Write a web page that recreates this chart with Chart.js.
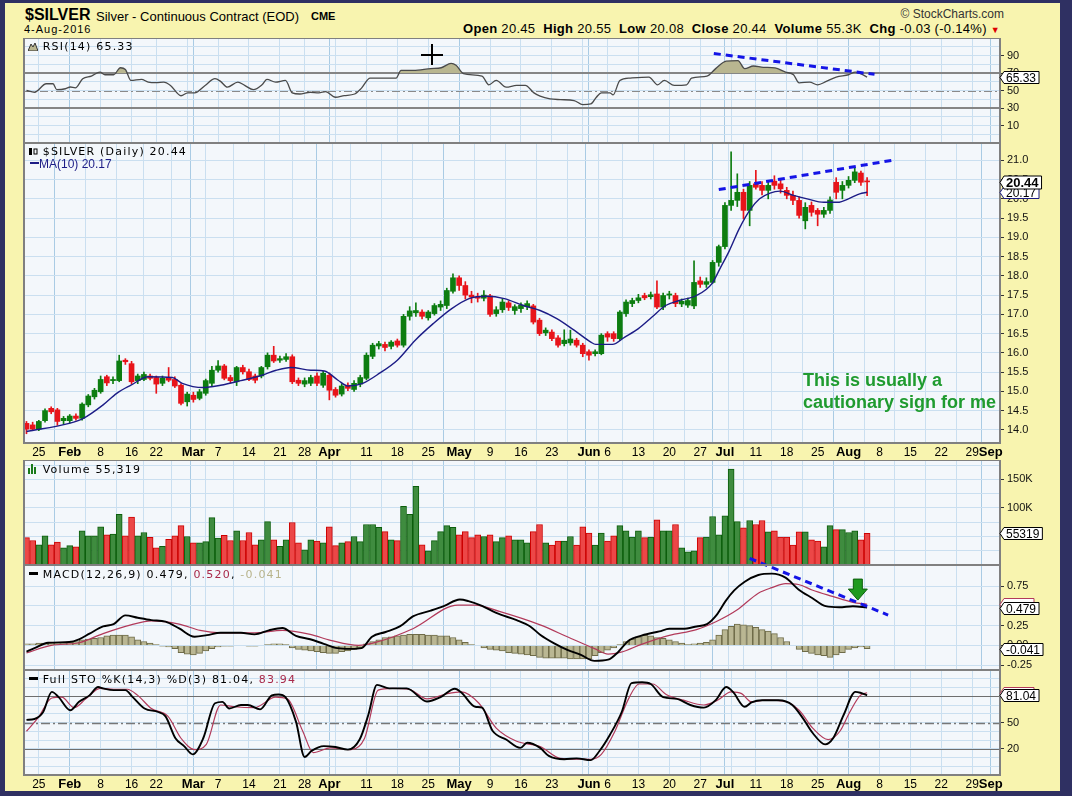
<!DOCTYPE html>
<html><head><meta charset="utf-8">
<script src="https://cdn.jsdelivr.net/npm/chart.js@4.4.1/dist/chart.umd.min.js"></script>
<style>
html,body{margin:0;padding:0}
body{width:1072px;height:796px;background:#2f3062;position:relative;overflow:hidden;font-family:"Liberation Sans",Arial,sans-serif}
#frame{position:absolute;left:5px;top:3px;width:1055px;height:788px;background:#f8f4af}
canvas{position:absolute;left:23px}
.t{position:absolute;white-space:nowrap;line-height:1;color:#000}
.lbl{font-family:"DejaVu Sans",sans-serif;font-size:11px;letter-spacing:1.2px}
</style></head><body>
<div id="frame"></div>
<canvas id="cRsi" width="1035" height="105" style="top:38px"></canvas>
<canvas id="cPrice" width="1035" height="317" style="top:143px"></canvas>
<canvas id="cVol" width="1035" height="105" style="top:460px"></canvas>
<canvas id="cMacd" width="1035" height="125" style="top:545px"></canvas>
<canvas id="cSto" width="1035" height="122" style="top:670px"></canvas>

<div class="t" style="left:25px;top:7px;font-weight:bold;font-size:16px">$SILVER</div>
<div class="t" style="left:96px;top:10px;font-size:13px">Silver - Continuous Contract (EOD)</div>
<div class="t" style="left:311px;top:11px;font-size:11px;font-weight:bold">CME</div>
<div class="t" style="left:24px;top:24px;font-size:11px;letter-spacing:1px">4-Aug-2016</div>
<div class="t" style="right:68px;top:8px;font-size:12px;color:#333">&copy; StockCharts.com</div>
<div class="t" style="right:72px;top:22px;font-size:13px;letter-spacing:0.3px"><b>Open</b> 20.45 &nbsp;<b>High</b> 20.55 &nbsp;<b>Low</b> 20.08 &nbsp;<b>Close</b> 20.44 &nbsp;<b>Volume</b> 55.3K &nbsp;<b>Chg</b> -0.03 (-0.14%) <span style="color:#d00;font-size:9px">&#9660;</span></div>

<div class="t lbl" style="left:28px;top:41px"><svg width="10" height="9" style="vertical-align:-1px"><polygon points="0,9 3,2 5,5 7,1 10,9" fill="#b9b690" stroke="#333" stroke-width="1"/></svg> RSI(14) 65.33</div>
<div class="t lbl" style="left:28px;top:146px"><svg width="10" height="9" style="vertical-align:-1px"><rect x="1" y="1" width="3" height="7" fill="#000"/><rect x="6" y="2" width="3" height="5" fill="none" stroke="#000"/></svg> $SILVER (Daily) 20.44</div>
<div class="t" style="left:30px;top:158px;font-size:12px;color:#1c1c86"><span style="display:inline-block;width:9px;height:2px;background:#1c1c86;vertical-align:4px"></span>MA(10) 20.17</div>
<div class="t lbl" style="left:28px;top:464px"><svg width="10" height="10" style="vertical-align:-1px"><rect x="0" y="4" width="2" height="6" fill="#1b7a1b"/><rect x="3" y="0" width="2" height="10" fill="#1b7a1b"/><rect x="6" y="3" width="2" height="7" fill="#1b7a1b"/></svg> Volume 55,319</div>
<div class="t lbl" style="left:29px;top:569px"><span style="display:inline-block;width:9px;height:3px;background:#000;vertical-align:3px"></span> MACD(12,26,9) 0.479, <span style="color:#a8294a">0.520</span>, <span style="color:#b8b48c">-0.041</span></div>
<div class="t lbl" style="left:29px;top:674px"><span style="display:inline-block;width:9px;height:3px;background:#000;vertical-align:3px"></span> Full STO %K(14,3) %D(3) 81.04, <span style="color:#a8294a">83.94</span></div>

<div class="t" style="left:803px;top:369px;font-size:18px;font-weight:bold;color:#1f9b2f;line-height:22px">This is usually a<br>cautionary sign for me</div>
<div style="position:absolute;left:421px;top:54px;width:22px;height:1.5px;background:#000"></div>
<div style="position:absolute;left:431px;top:44px;width:1.5px;height:21px;background:#000"></div>

<script>
// ---------- categories ----------
const dates = ['2016-01-21','2016-01-22','2016-01-25','2016-01-26','2016-01-27','2016-01-28','2016-01-29',
'2016-02-01','2016-02-02','2016-02-03','2016-02-04','2016-02-05','2016-02-08','2016-02-09','2016-02-10','2016-02-11','2016-02-12','2016-02-16','2016-02-17','2016-02-18','2016-02-19','2016-02-22','2016-02-23','2016-02-24','2016-02-25','2016-02-26','2016-02-29',
'2016-03-01','2016-03-02','2016-03-03','2016-03-04','2016-03-07','2016-03-08','2016-03-09','2016-03-10','2016-03-11','2016-03-14','2016-03-15','2016-03-16','2016-03-17','2016-03-18','2016-03-21','2016-03-22','2016-03-23','2016-03-24','2016-03-28','2016-03-29','2016-03-30','2016-03-31',
'2016-04-01','2016-04-04','2016-04-05','2016-04-06','2016-04-07','2016-04-08','2016-04-11','2016-04-12','2016-04-13','2016-04-14','2016-04-15','2016-04-18','2016-04-19','2016-04-20','2016-04-21','2016-04-22','2016-04-25','2016-04-26','2016-04-27','2016-04-28','2016-04-29',
'2016-05-02','2016-05-03','2016-05-04','2016-05-05','2016-05-06','2016-05-09','2016-05-10','2016-05-11','2016-05-12','2016-05-13','2016-05-16','2016-05-17','2016-05-18','2016-05-19','2016-05-20','2016-05-23','2016-05-24','2016-05-25','2016-05-26','2016-05-27','2016-05-31',
'2016-06-01','2016-06-02','2016-06-03','2016-06-06','2016-06-07','2016-06-08','2016-06-09','2016-06-10','2016-06-13','2016-06-14','2016-06-15','2016-06-16','2016-06-17','2016-06-20','2016-06-21','2016-06-22','2016-06-23','2016-06-24','2016-06-27','2016-06-28','2016-06-29','2016-06-30',
'2016-07-01','2016-07-05','2016-07-06','2016-07-07','2016-07-08','2016-07-11','2016-07-12','2016-07-13','2016-07-14','2016-07-15','2016-07-18','2016-07-19','2016-07-20','2016-07-21','2016-07-22','2016-07-25','2016-07-26','2016-07-27','2016-07-28','2016-07-29',
'2016-08-01','2016-08-02','2016-08-03','2016-08-04'];

// up (g) / down (r) day
const dir = ['r','r','g','g','r','r','g','g','r','g', 'g','g','g','r','g','g','r','r','g','g',
'r','r','g','r','r','r','g','r','g','g', 'g','g','r','r','g','r','r','r','g','g',
'r','g','g','r','r','g','g','r','g','r', 'r','g','r','g','g','g','g','g','r','g',
'r','g','g','g','r','g','g','g','g','g', 'r','r','r','r','g','r','g','g','r','g',
'g','g','r','r','g','r','r','g','g','r', 'r','r','g','g','r','r','g','g','g','g',
'r','g','r','g','g','r','g','g','g','r', 'g','g','g','g','g','g','r','g','r','r',
'g','r','r','r','r','r','g','r','r','g', 'g','r','g','g','g','r','r'];

// ---------- price (OHLC) ----------
const open = [14.17,14.13,14.02,14.24,14.56,14.52,14.24,14.24,14.36,14.30,
14.65,14.86,14.99,15.38,15.28,15.28,15.81,15.72,15.28,15.31,
15.40,15.36,15.21,15.36,15.31,15.16,14.73,14.90,14.82,14.95,
15.21,15.55,15.66,15.36,15.25,15.62,15.51,15.40,15.40,15.64,
15.94,15.81,15.83,15.90,15.29,15.19,15.21,15.40,15.16,15.42,
15.05,14.93,15.16,15.05,15.19,15.34,15.91,16.18,16.22,16.17,
16.31,16.20,16.95,17.04,17.06,16.91,17.02,17.19,17.23,17.60,
17.95,17.75,17.50,17.45,17.42,17.48,17.02,17.12,17.30,17.10,
17.15,17.20,17.22,16.85,16.52,16.54,16.39,16.24,16.26,16.33,
16.20,16.03,15.98,15.98,16.50,16.50,16.37,17.02,17.28,17.36,
17.49,17.46,17.53,17.19,17.50,17.49,17.27,17.24,17.22,17.87,
17.78,17.83,18.35,18.76,19.83,19.96,20.17,19.70,20.39,20.35,
20.22,20.46,20.39,20.22,20.09,19.96,19.43,19.83,19.70,19.60,
19.70,20.43,20.22,20.35,20.48,20.67,20.45];
const high = [14.22,14.20,14.25,14.55,14.60,14.56,14.35,14.40,14.42,14.70,
14.92,15.08,15.40,15.42,15.38,15.94,15.85,15.78,15.45,15.50,
15.45,15.40,15.40,15.62,15.38,15.20,14.98,14.98,15.05,15.32,
15.65,15.80,15.70,15.42,15.65,15.68,15.58,15.45,15.65,16.00,
16.17,15.92,15.98,15.95,15.35,15.35,15.42,15.48,15.52,15.48,
15.10,15.20,15.22,15.28,15.42,16.00,16.25,16.30,16.28,16.32,
16.36,17.00,17.20,17.30,17.12,17.10,17.28,17.35,17.68,18.05,
18.00,17.85,17.60,17.55,17.62,17.52,17.20,17.40,17.35,17.25,
17.30,17.35,17.26,16.90,16.65,16.60,16.45,16.60,16.59,16.38,
16.25,16.08,16.08,16.50,16.55,16.55,17.10,17.38,17.42,17.52,
17.55,17.58,17.87,17.55,17.60,17.55,17.40,17.42,18.39,17.97,
17.95,18.40,18.80,19.90,21.22,20.65,20.25,20.45,20.74,20.45,
20.45,20.60,20.50,20.30,20.20,20.05,19.90,19.92,19.75,19.78,
20.05,20.55,20.45,20.58,20.80,20.72,20.55];
const low = [13.90,13.98,13.98,14.20,14.42,14.12,14.15,14.18,14.25,14.25,
14.60,14.80,14.95,15.15,15.20,15.25,15.70,15.20,15.20,15.28,
15.30,14.95,15.15,15.25,15.10,14.65,14.62,14.72,14.78,14.90,
15.15,15.50,15.30,15.22,15.15,15.45,15.28,15.22,15.35,15.58,
15.75,15.75,15.78,15.20,15.15,15.12,15.15,15.15,15.10,14.78,
14.85,14.88,15.02,15.00,15.12,15.30,15.85,16.10,16.05,16.10,
16.15,16.15,16.85,16.95,16.88,16.85,16.98,17.10,17.15,17.55,
17.62,17.40,17.30,17.32,17.35,16.95,16.95,17.05,17.10,17.00,
17.05,17.12,16.75,16.45,16.45,16.32,16.15,16.18,16.20,16.15,
15.90,15.81,15.92,15.95,16.30,16.30,16.32,16.95,17.20,17.30,
17.38,17.40,17.15,17.12,17.40,17.20,17.20,17.18,17.15,17.70,
17.70,17.80,18.25,18.70,19.70,19.80,19.48,19.30,20.25,20.10,
20.00,20.25,20.15,20.00,19.85,19.50,19.22,19.55,19.30,19.52,
19.62,20.00,20.00,20.28,20.42,20.35,20.08];
const close = [14.02,14.02,14.22,14.50,14.47,14.22,14.30,14.36,14.30,14.67,
14.88,15.03,15.31,15.22,15.31,15.79,15.77,15.25,15.40,15.44,
15.34,15.19,15.34,15.29,15.14,14.69,14.93,14.79,14.99,15.28,
15.55,15.66,15.34,15.28,15.62,15.51,15.31,15.29,15.62,15.94,
15.79,15.85,15.90,15.25,15.21,15.28,15.36,15.21,15.47,15.03,
14.90,15.14,15.08,15.21,15.36,15.94,16.20,16.24,16.14,16.28,
16.20,16.95,17.09,17.10,16.95,17.06,17.23,17.26,17.62,17.95,
17.75,17.50,17.45,17.42,17.50,17.00,17.12,17.32,17.18,17.20,
17.24,17.28,16.80,16.50,16.59,16.37,16.20,16.33,16.36,16.20,
15.98,15.94,16.03,16.46,16.41,16.37,17.06,17.32,17.36,17.43,
17.43,17.51,17.19,17.49,17.53,17.28,17.34,17.36,17.83,17.78,
17.85,18.35,18.76,19.83,19.96,20.17,19.70,20.35,20.30,20.22,
20.35,20.35,20.26,20.09,19.96,19.57,19.78,19.65,19.60,19.70,
19.97,20.17,20.35,20.48,20.70,20.43,20.44];

// MA(10) read at positions (trading-day index)
const maX = [0,6.9,9.2,12.4,14.6,16.9,19.7,23.6,25.2,28.6,31.4,34.7,38.1,40.4,42.8,46,48.2,50.4,52,54.4,57.2,60,62.9,65.8,68.8,71.6,74.5,77.3,80.4,83.1,85.8,88.6,91.3,92.1,94.8,96.8,99,101.2,103.4,105.6,108.4,110.9,112.3,113.7,115.3,117,118.6,120.3,121.9,124.1,126.3,129,131.2,133.4,134.8,136];
const maY = [13.96,14.17,14.3,14.65,14.95,15.16,15.38,15.36,15.21,15.1,15.16,15.28,15.42,15.55,15.62,15.55,15.53,15.29,15.14,15.21,15.48,15.81,16.33,16.76,17.15,17.41,17.47,17.41,17.23,17.1,16.89,16.59,16.28,16.22,16.22,16.41,16.63,16.93,17.23,17.36,17.49,17.8,18.22,18.65,19.22,19.7,20.0,20.15,20.2,20.09,20.0,19.91,19.91,20.03,20.13,20.17];

// ---------- volume (thousands) ----------
const volK = [48,43,35.5,51,35.5,40,30,34,32,60,
51,51,67,53,54,89,51,84,51,57,
48.5,30,32.5,45,51,69,50,39,39,41,
83,47,52,43,60,43,57,35.5,44,76,
44,32.5,44,74.5,39,26.6,44,42,39,67,
34,39,41,50,41,71,71,66,58.6,44,
42.6,103,89,138,35.5,25,42.6,58.6,69,66,
53,58.6,48,53,50,53,41,48,51,44,
44,39,58.6,71,39,35,42,42,50,35,
67,56,35,56,42,51,69,60,49,60,
48,49,79,60,60,71,30,23,25,48,
49,85,53,86,168,76,65,78,71,78,
58,60,49,49,35,58,58,44,42,32,
69,62,62,57,60,44,55.319];

// ---------- RSI(14) ----------
const rsiX = [0,1.3,3.2,4.3,4.9,6.3,7.1,7.9,9.1,10.5,11.9,12.7,14.1,15.2,16,16.9,18.6,19.7,21,22.2,23.3,25,26.1,27.2,28.9,30.5,31.4,32.5,34.2,35.3,36.7,38.1,38.9,40.3,41.9,43,44.2,45.9,47.3,48.4,50,51.4,53.1,54.2,55.6,57,59.8,60.6,62.6,65.4,67.1,68.7,69.5,70.7,73.7,74.8,76,77.6,79.3,80.7,82.1,83.1,84.7,86.4,88.6,90,91.3,92.2,93,94.4,94.9,96,97.7,100.7,102.1,103.2,104.8,106.8,107.6,110.1,111.5,113.2,115.1,116.2,117.6,119.2,121.1,122.8,124.1,125,126.7,128,129.4,131,133,134.1,134.9,136];
const rsiY = [50,48,57.7,57.7,51,52,54,53,63.5,66.5,71,68,68,76,74,61.5,62.7,59.6,59,59.6,55.8,44,47.3,47.3,55.8,63.5,60.4,53.8,59.6,55.8,51,56.5,62.7,59.6,61.5,47.3,46,48,47.3,48.8,42.3,44.2,46,52.7,64.2,64.2,64.2,73,73,75,76,81,78.8,69.2,66.5,56.5,61.5,53.8,55.8,55.8,47.3,43.5,40.4,39.6,38.5,33.8,34.6,42.3,47.3,47.3,45,61.5,64.2,65.4,56.5,61.5,55.8,56.5,64.2,66.5,75,83.5,84.2,75,78,76.5,75.8,71,68,58.8,59.6,56.5,60.4,65.4,68,71,69.2,65.33];

// ---------- MACD(12,26,9) ----------
const macdX = [0,1.3,3.5,6.9,8.5,10.2,12.4,14.1,16,18,20.2,22.5,24.7,27.2,29.2,31.4,34.7,36.9,39.2,41.4,43.6,45.9,48.1,50.3,52.5,54.2,55.9,58.1,60.4,62.6,65.4,67.6,70.1,71.5,73.7,76,79.3,81.5,83.1,85.3,87.5,89.7,91.9,94.1,95.7,97.4,99.6,102.4,104,106.2,108.4,110.1,111.7,113.1,114.5,116.2,118.4,120.6,122.8,124.9,127.1,129.3,131.5,133.7,136];
const macdY = [-0.078,-0.034,0.034,0.043,0.078,0.15,0.24,0.27,0.38,0.35,0.32,0.30,0.215,0.11,0.13,0.16,0.16,0.14,0.19,0.22,0.12,0.078,0.02,-0.034,-0.043,-0.034,0.11,0.17,0.24,0.37,0.44,0.50,0.58,0.56,0.50,0.41,0.32,0.24,0.136,0.03,-0.055,-0.12,-0.195,-0.18,-0.085,0.06,0.127,0.178,0.21,0.21,0.24,0.27,0.39,0.56,0.695,0.805,0.89,0.907,0.856,0.708,0.60,0.496,0.483,0.496,0.479];
const sigX = [0,4,8.5,12.4,16.9,20.2,24.7,28.1,31.4,36.9,41.4,45.9,49.2,53.7,57,62.6,69.8,72.6,76.5,83.1,87.5,91.9,94.1,96.2,99.6,104,108.4,111.7,115,118.4,120.6,122.8,124.9,127.1,130.4,133.7,136];
const sigY = [-0.095,0,0.034,0.15,0.26,0.31,0.27,0.19,0.16,0.16,0.19,0.14,0.065,0,0.05,0.215,0.51,0.51,0.43,0.26,0.11,-0.04,-0.11,-0.085,0.017,0.127,0.2,0.305,0.45,0.66,0.73,0.78,0.77,0.70,0.62,0.545,0.520];
const hist = [0.02,0.02,0.03,0.03,0.04,0.04,0.04,0.04,0.05,0.07,
0.08,0.09,0.10,0.12,0.13,0.13,0.13,0.11,0.07,0.05,
0.03,0.01,-0.01,-0.02,-0.04,-0.09,-0.11,-0.12,-0.10,-0.07,
-0.04,-0.02,-0.01,-0.01,0.00,0.00,-0.01,-0.01,0.00,0.01,
0.02,0.02,0.01,-0.03,-0.05,-0.06,-0.07,-0.08,-0.09,-0.10,
-0.10,-0.08,-0.07,-0.05,-0.03,0.02,0.05,0.07,0.10,0.11,
0.12,0.13,0.14,0.14,0.14,0.13,0.13,0.12,0.12,0.10,
0.07,0.04,0.01,0.00,-0.03,-0.05,-0.06,-0.07,-0.09,-0.10,
-0.11,-0.12,-0.13,-0.15,-0.16,-0.16,-0.16,-0.16,-0.17,-0.17,
-0.17,-0.17,-0.13,-0.09,-0.06,-0.03,0.01,0.05,0.08,0.11,
0.13,0.12,0.10,0.09,0.07,0.05,0.03,0.01,0.02,0.03,
0.04,0.07,0.13,0.20,0.24,0.27,0.26,0.25,0.23,0.20,
0.18,0.15,0.10,0.05,0.00,-0.05,-0.08,-0.10,-0.12,-0.13,
-0.15,-0.12,-0.09,-0.05,-0.03,-0.02,-0.041];

// ---------- Full STO ----------
const kX = [0,1.3,2.7,4.1,5.2,7.1,8.5,10.2,11.6,12.4,14.1,16,17.2,19.1,21.3,22.5,24.1,25.5,26.9,28.6,30.5,31.7,32.8,34.7,35.8,37.8,39.7,40.8,41.9,43.6,45,46.1,48.1,50,52,53.9,55.3,56.7,58.7,61.5,64.8,67,69.3,70.4,72.6,73.7,75.4,77.6,79.9,81,83.1,84.5,87,89,91.3,92.7,94.4,96.3,97.9,99.6,101,103,105.2,107.4,109.6,111.5,113.2,114.3,116.2,117.3,119,121.7,123.9,125.6,127.2,129.2,130.5,132.2,134.1,134.9,136];
const kY = [53,54,62,85,79,64,73.6,81,90.5,89,87,87,79,66,62,57,32,23,13.6,32,72,73.6,66,70,70,65,81,82,79,51,10.6,17.4,23,22,19,30.5,58.6,93,89,89,74,79,88.6,84,68,67,40.6,30.5,21,26.8,21,11.8,8,9,7,17.4,36,62,95,96,94,79,77,70,67,75.5,90.5,85,68,73,75.5,75.5,70,55,38,25,32,58.6,85,84,81.04];
const dX = [0,1.9,4.1,5.7,7.7,9.6,11.9,14.1,16.3,18,20.2,22.9,25,27.2,29.1,31.4,33.6,36.9,40.3,42.2,44.7,46.4,49.2,52.5,54.7,56.9,59.2,61.9,64.8,68.1,70.4,73.2,76,79.3,83.1,86.4,91.3,93,95.2,97.4,99.1,101.3,103.5,106.3,109.6,111.8,114,115.7,117.3,119.5,122.8,125,127.2,129.7,131.6,133.2,134.9,136];
const dY = [40,55.6,78,79,67,77,89,88,88,81,66,57,32,19,25,70,68,67,79,77,40,15.5,21,19,32,87,89,88,77,83,85,72,43.6,28.6,22.5,9,8,13.6,40,77,94,94,82,75.5,70,75.5,85,83,73.6,75.5,74,64,43.6,30.5,40,62,81,83.94];

// ---------- annotations (data coordinates) ----------
const rsiTrendX = [111.2,137.2], rsiTrendY = [92.3,68.5];
const priceTrendX = [112,140], priceTrendY = [20.24,21.0];
const macdTrendX = [117,139.4], macdTrendY = [1.10,0.384];
const arrowAt = {x:134.5, y:0.573};

// ---------- latest values / ticks ----------
const lastClose=20.44, lastMA=20.17, lastRSI=65.33, lastVol=55319, lastMACD=0.479, lastSignal=0.520, lastHist=-0.041, lastK=81.04, lastD=83.94;
const gridDays = [[2,'25',0],[7,'Feb',1],[12,'8',0],[17,'16',0],[21,'22',0],[26,'',0],[27,'Mar',1],[31,'7',0],[36,'14',0],[41,'21',0],[45,'28',0],[49,'Apr',1],[50,'',0],[55,'11',0],[60,'18',0],[65,'25',0],[70,'May',1],[75,'9',0],[80,'16',0],[85,'23',0],[90,'',0],[91,'Jun',1],[94,'6',0],[99,'13',0],[104,'20',0],[109,'27',0],[113,'Jul',1],[114,'',0],[118,'11',0],[123,'18',0],[128,'25',0],[133,'Aug',1],[138,'8',0],[143,'15',0],[148,'22',0],[153,'29',0],[156,'Sep',1]];
const priceTicks = [14,14.5,15,15.5,16,16.5,17,17.5,18,18.5,19,19.5,20,20.5,21];
const pctTicks = [-10,0,10,20,30,40,50,60,70,80,90,100,110];
const rsiLabels = [10,30,50,70,90];
const stoLabels = [20,50,80];
const volTicks = [0,25000,50000,75000,100000,125000,150000,175000];
const volLabels = {100000:'100K',150000:'150K'};
const macdTicks = [-0.25,0,0.25,0.5,0.75];

// ---------- helpers ----------
const FONT = '"Liberation Sans", Arial, sans-serif';
const X_MIN = -0.4, X_MAX = 157.5;
const idx = dates.map((d,i)=>i);
const pts = (xs,ys)=>xs.map((x,i)=>({x:x,y:ys[i]}));
const isUp = i => dir[i]==='g';

function xScale(show){
  return {
    type:'linear', min:X_MIN, max:X_MAX, offset:false,
    afterBuildTicks(s){ s.ticks = gridDays.map(g=>({value:g[0]})); },
    afterFit(s){ s.height = show?17:0; s.paddingLeft=0; s.paddingRight=0; },
    ticks:{ display:show, autoSkip:false, maxRotation:0, minRotation:0, padding:2, color:'#000',
      callback(v,i){ return gridDays[i] ? gridDays[i][1] : ''; },
      font(ctx){ const g=gridDays[ctx.index]; return (g&&g[2]) ? {family:FONT,size:13,weight:'bold'} : {family:FONT,size:12}; } },
    grid:{ drawTicks:false, lineWidth:1, color(ctx){ const g=gridDays[ctx.index]; return (g&&g[2]) ? '#a9cbe4' : '#cadff0'; } },
    border:{display:false}
  };
}
function yScale(min,max,ticks,fmt){
  return {
    type:'linear', position:'right', min:min, max:max,
    afterBuildTicks(s){ s.ticks = ticks.map(v=>({value:v})); },
    afterFit(s){ s.width = 58; s.paddingTop=0; s.paddingBottom=0; },
    ticks:{ autoSkip:false, padding:3, color:'#111', font:{family:FONT,size:11}, callback:fmt },
    grid:{ color:'#cadff0', lineWidth:1, drawTicks:true, tickLength:4,
      tickColor(ctx){ return ctx.tick && ctx.tick.label ? '#333' : 'rgba(0,0,0,0)'; } },
    border:{display:false}
  };
}

const panel = {
  id:'panel',
  beforeDraw(c){ const a=c.chartArea, x=c.ctx; x.save(); x.fillStyle='#f3f7fb'; x.fillRect(a.left,a.top,a.width,a.height); x.restore(); },
  afterDraw(c){ const a=c.chartArea, x=c.ctx; x.save(); x.strokeStyle='#808080'; x.lineWidth=2; x.strokeRect(a.left,a.top,a.width,a.height); x.restore(); }
};
const refLines = {
  id:'refLines',
  beforeDatasetsDraw(c,args,o){
    const y=c.scales.y, a=c.chartArea, x=c.ctx;
    (o.lines||[]).forEach(l=>{
      const py=Math.round(y.getPixelForValue(l.value))+((l.width%2)?0.5:0);
      x.save(); x.strokeStyle=l.color; x.lineWidth=l.width; x.setLineDash(l.dash||[]);
      x.beginPath(); x.moveTo(a.left,py); x.lineTo(a.right,py); x.stroke(); x.restore();
    });
  }
};
const boxes = {
  id:'boxes',
  afterDraw(c,args,o){
    const y=c.scales.y, x=c.ctx;
    (o.items||[]).forEach(b=>{
      const py=Math.round(y.getPixelForValue(b.value))+0.5;
      const font=(b.bold?'bold 13px ':'12px ')+FONT;
      x.save(); x.font=font;
      const w=Math.max(b.text?x.measureText(b.text).width+5:30, 30), h=b.bold?13:12, x0=y.left+4;
      x.fillStyle='#fff'; x.strokeStyle=b.border||'#000'; x.lineWidth=1;
      x.beginPath(); x.moveTo(y.left,py); x.lineTo(x0,py-h/2); x.lineTo(x0+w,py-h/2); x.lineTo(x0+w,py+h/2); x.lineTo(x0,py+h/2); x.closePath();
      x.fill(); x.stroke();
      if(b.text){ x.fillStyle='#000'; x.textBaseline='middle'; x.fillText(b.text,x0+2,py+1); }
      x.restore();
    });
  }
};
const arrowPlug = {
  id:'arrowPlug',
  afterDatasetsDraw(c,args,o){
    if(!o.at) return;
    const px=c.scales.x.getPixelForValue(o.at.x), py=c.scales.y.getPixelForValue(o.at.y), x=c.ctx;
    x.save(); x.fillStyle='#1f9a1f'; x.strokeStyle='#0b5e0b'; x.lineWidth=1;
    x.beginPath();
    x.moveTo(px-4.5,py-21); x.lineTo(px+4.5,py-21); x.lineTo(px+4.5,py-11); x.lineTo(px+9.5,py-11);
    x.lineTo(px,py); x.lineTo(px-9.5,py-11); x.lineTo(px-4.5,py-11); x.closePath();
    x.fill(); x.stroke(); x.restore();
  }
};
function baseOpts(scales, plugins, pad){
  return { responsive:false, animation:false, events:[],
    layout:{padding:Object.assign({left:1,right:0,top:0,bottom:0},pad||{})},
    scales:scales,
    plugins:Object.assign({legend:{display:false},tooltip:{enabled:false}},plugins) };
}
const trendStyle = {borderColor:'#1414e6', borderWidth:3, borderDash:[7,5], pointRadius:0, fill:false, clip:false};

// ---------- RSI ----------
new Chart(document.getElementById('cRsi'), {
  type:'line',
  data:{datasets:[
    Object.assign({type:'line', data:pts(rsiTrendX,rsiTrendY), order:-1}, trendStyle),
    {data:pts(rsiX,rsiY), borderColor:'#4a4a4a', borderWidth:1.3, pointRadius:0, tension:0.3, cubicInterpolationMode:'monotone',
     fill:{target:{value:70}, above:'#b9b690', below:'rgba(0,0,0,0)'}, order:1}
  ]},
  options:baseOpts({x:xScale(false), y:yScale(-10,110,pctTicks,v=>rsiLabels.includes(v)?String(v):'')},
    {refLines:{lines:[{value:70,color:'#858585',width:2},{value:30,color:'#858585',width:2},{value:50,color:'#8a8a8a',width:1,dash:[8,3,2,3]}]},
     boxes:{items:[{value:lastRSI,text:lastRSI.toFixed(2)}]}}),
  plugins:[panel,refLines,boxes]
});

// ---------- Price ----------
new Chart(document.getElementById('cPrice'), {
  type:'bar',
  data:{datasets:[
    Object.assign({type:'line', data:pts(priceTrendX,priceTrendY), order:-1}, trendStyle),
    {type:'line', data:pts(maX,maY), borderColor:'#1c1c86', borderWidth:1.4, pointRadius:0, tension:0.3, cubicInterpolationMode:'monotone', order:0},
    {data:idx.map(i=>({x:i,y:[open[i],close[i]]})), backgroundColor:idx.map(i=>isUp(i)?'#0d7d10':'#e8141a'), barThickness:5, grouped:false, minBarLength:1, order:1},
    {data:idx.map(i=>({x:i,y:[low[i],high[i]]})), backgroundColor:idx.map(i=>isUp(i)?'#0d7d10':'#e8141a'), barThickness:1, grouped:false, order:2}
  ]},
  options:baseOpts({x:xScale(true), y:yScale(13.66,21.45,priceTicks,v=>v.toFixed(1))},
    {boxes:{items:[{value:lastMA,text:lastMA.toFixed(2),border:'#1c1c86'},{value:lastClose,text:lastClose.toFixed(2),bold:true}]}}),
  plugins:[panel,boxes]
});

// ---------- Volume ----------
new Chart(document.getElementById('cVol'), {
  type:'bar',
  data:{datasets:[
    {data:idx.map(i=>({x:i,y:volK[i]*1000})), backgroundColor:idx.map(i=>isUp(i)?'#3f8c3f':'#ec4747'),
     borderColor:idx.map(i=>isUp(i)?'#0b5d0b':'#cc0000'), borderWidth:1, barThickness:6, grouped:false}
  ]},
  options:baseOpts({x:xScale(false), y:yScale(0,184000,volTicks,v=>volLabels[v]||'')},
    {boxes:{items:[{value:lastVol,text:String(lastVol)}]}}),
  plugins:[panel,boxes]
});

// ---------- MACD ----------
new Chart(document.getElementById('cMacd'), {
  type:'bar',
  data:{datasets:[
    Object.assign({type:'line', data:pts(macdTrendX,macdTrendY), order:-1}, trendStyle),
    {type:'line', data:pts(macdX,macdY), borderColor:'#000', borderWidth:1.9, pointRadius:0, tension:0.3, cubicInterpolationMode:'monotone', order:0},
    {type:'line', data:pts(sigX,sigY), borderColor:'#b23a5a', borderWidth:1.2, pointRadius:0, tension:0.3, cubicInterpolationMode:'monotone', order:0.5},
    {data:idx.map(i=>({x:i,y:hist[i]})), backgroundColor:'#bab793', borderColor:'#6e6b48', borderWidth:1, barThickness:6, grouped:false, order:2}
  ]},
  options:baseOpts({x:xScale(false), y:yScale(-0.31,1.016,macdTicks,v=>v.toFixed(2))},
    {arrowPlug:{at:arrowAt},
     boxes:{items:[{value:lastSignal,text:'',border:'#b23a5a'},{value:lastMACD,text:lastMACD.toFixed(3)},{value:lastHist,text:lastHist.toFixed(3)}]}}, {top:20}),
  plugins:[panel,arrowPlug,boxes]
});

// ---------- Full STO ----------
new Chart(document.getElementById('cSto'), {
  type:'line',
  data:{datasets:[
    {data:pts(kX,kY), borderColor:'#000', borderWidth:1.9, pointRadius:0, tension:0.3, cubicInterpolationMode:'monotone', order:0},
    {data:pts(dX,dY), borderColor:'#b23a5a', borderWidth:1.2, pointRadius:0, tension:0.3, cubicInterpolationMode:'monotone', order:1}
  ]},
  options:baseOpts({x:xScale(true), y:yScale(-10,110,pctTicks,v=>stoLabels.includes(v)?String(v):'')},
    {refLines:{lines:[{value:80,color:'#6e6e6e',width:1},{value:20,color:'#6e6e6e',width:1},{value:50,color:'#777',width:1.5,dash:[9,3,2,3]}]},
     boxes:{items:[{value:lastD,text:'',border:'#b23a5a'},{value:lastK,text:lastK.toFixed(2)}]}}),
  plugins:[panel,refLines,boxes]
});
</script>
</body></html>
